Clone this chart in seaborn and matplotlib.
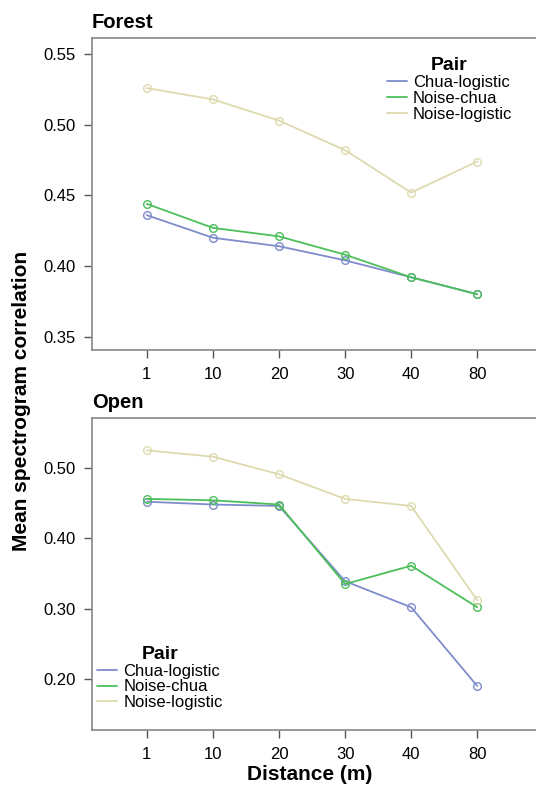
import matplotlib
matplotlib.use("Agg")
import matplotlib.pyplot as plt
from matplotlib.lines import Line2D
import seaborn as sns
import pandas as pd

# data
distances = ["1", "10", "20", "30", "40", "80"]
pairs = ["Chua-logistic", "Noise-chua", "Noise-logistic"]

forest_chua_logistic = [0.436, 0.420, 0.414, 0.404, 0.392, 0.380]
forest_noise_chua = [0.444, 0.427, 0.421, 0.408, 0.392, 0.380]
forest_noise_logistic = [0.526, 0.518, 0.503, 0.482, 0.452, 0.474]

open_chua_logistic = [0.452, 0.448, 0.446, 0.339, 0.302, 0.190]
open_noise_chua = [0.456, 0.454, 0.448, 0.335, 0.361, 0.302]
open_noise_logistic = [0.525, 0.516, 0.491, 0.456, 0.446, 0.312]

palette = {"Chua-logistic": "#7f8ccc", "Noise-chua": "#4cbf5a", "Noise-logistic": "#dedab0"}


def make_frame(cl, nc, nl):
    rows = []
    for pair, vals in zip(pairs, [cl, nc, nl]):
        for d, v in zip(distances, vals):
            rows.append({"Distance": d, "Pair": pair, "corr": v})
    return pd.DataFrame(rows)


df_forest = make_frame(forest_chua_logistic, forest_noise_chua, forest_noise_logistic)
df_open = make_frame(open_chua_logistic, open_noise_chua, open_noise_logistic)

sns.set_style("white")
plt.rcParams["font.family"] = ["Liberation Sans", "DejaVu Sans"]
plt.rcParams["text.color"] = "black"
plt.rcParams["xtick.color"] = "#555555"
plt.rcParams["ytick.color"] = "#555555"
plt.rcParams["xtick.labelcolor"] = "black"
plt.rcParams["ytick.labelcolor"] = "black"

fig = plt.figure(figsize=(5.36, 7.9), dpi=100)
ax1 = fig.add_axes([92 / 536, 1 - 350 / 790, 1 - 92 / 536 + 0.01, 312 / 790])
ax2 = fig.add_axes([92 / 536, 1 - 730 / 790, 1 - 92 / 536 + 0.01, 312 / 790])


def draw_panel(ax, df, ylim, yticks, title, legend_loc, anchor):
    for pair in pairs:
        sub = df[df["Pair"] == pair]
        sns.lineplot(data=sub, x="Distance", y="corr", sort=False, ax=ax,
                     color=palette[pair], linewidth=1.3, marker="o",
                     markersize=5.5, markerfacecolor="none",
                     markeredgecolor=palette[pair], markeredgewidth=1.0)
    ax.set_xlim(-0.83, 5.97)
    ax.set_ylim(*ylim)
    ax.set_yticks(yticks)
    ax.set_yticklabels(["%.2f" % t for t in yticks])
    ax.set_xlabel("")
    ax.set_ylabel("")
    ax.tick_params(axis="both", which="both", direction="out", length=6,
                   width=1.0, labelsize=12, bottom=True, left=True, pad=6)
    for s in ax.spines.values():
        s.set_color("#888888")
        s.set_linewidth(1.2)
    ax.text(0, 1.018, title, transform=ax.transAxes, fontsize=14.5,
            fontweight="bold", ha="left", va="bottom")
    handles = [Line2D([], [], color=palette[p], linewidth=1.3) for p in pairs]
    leg = ax.legend(handles, pairs, title="Pair", loc=legend_loc, frameon=False,
                    fontsize=12, handlelength=1.2, handletextpad=0.35,
                    labelspacing=0.05, borderaxespad=0.0,
                    bbox_to_anchor=anchor, bbox_transform=ax.transAxes)
    leg.get_title().set_fontweight("bold")
    leg.get_title().set_fontsize(14)
    return leg


draw_panel(ax1, df_forest, (0.3405, 0.5615), [0.35, 0.40, 0.45, 0.50, 0.55],
           "Forest", "upper right", (0.95, 0.96))
draw_panel(ax2, df_open, (0.1275, 0.571), [0.20, 0.30, 0.40, 0.50],
           "Open", "lower left", (-0.003, 0.042))

fig.text(22 / 536, 1 - 401 / 790, "Mean spectrogram correlation", rotation=90,
         fontsize=15, fontweight="bold", ha="center", va="center")
fig.text(310 / 536, 1 - 775 / 790, "Distance (m)", fontsize=15,
         fontweight="bold", ha="center", va="center")

fig.savefig("out.png", dpi=100)
